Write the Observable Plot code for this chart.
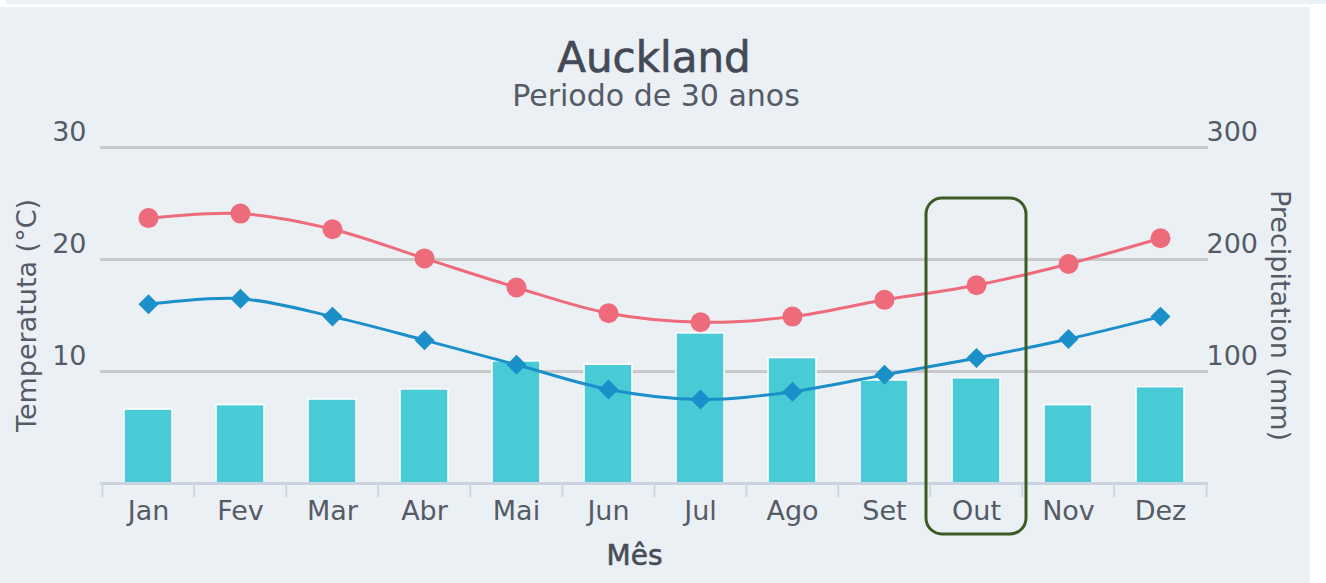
<!DOCTYPE html>
<html><head><meta charset="utf-8">
<script src="https://cdn.jsdelivr.net/npm/d3@7"></script>
<script src="https://cdn.jsdelivr.net/npm/@observablehq/plot@0.6"></script>
<style>
html,body{margin:0;padding:0;background:#fff;width:1326px;height:583px;overflow:hidden;font-family:"DejaVu Sans",sans-serif}
#strip{position:absolute;left:6px;top:0;width:1320px;height:4px;background:#ebf0f5}
#bg{position:absolute;left:0;top:7px;width:1310px;height:576px;background:#ebf0f5}
#title{position:absolute;left:154px;width:1000px;top:37px;text-align:center;font-size:42px;line-height:42px;color:#434a57;-webkit-text-stroke:0.7px #434a57}
#subtitle{position:absolute;left:156px;width:1000px;top:81px;text-align:center;font-size:30px;line-height:30px;color:#555b66}
#chart{position:absolute;left:0;top:120px}
</style>
</head><body>
<div id="strip"></div>
<div id="bg"></div>
<div id="title">Auckland</div>
<div id="subtitle">Periodo de 30 anos</div>
<div id="chart"></div>
<script>
const months = ["Jan","Fev","Mar","Abr","Mai","Jun","Jul","Ago","Set","Out","Nov","Dez"];
const tempMax = [23.7, 24.1, 22.7, 20.1, 17.5, 15.2, 14.4, 14.9, 16.4, 17.7, 19.6, 21.9];
const tempMin = [16.0, 16.5, 14.9, 12.8, 10.6, 8.4, 7.5, 8.2, 9.7, 11.2, 12.9, 14.9];
const precipitation = [66, 70, 75, 84, 109, 106, 134, 112, 92, 94, 70, 86];
const tempTicks = [10, 20, 30];
const precipTicks = [100, 200, 300];
const highlighted = ["Out"];
const xTitle = "Mês";
const yLeftTitle = "Temperatuta (°C)";
const yRightTitle = "Precipitation (mm)";

const table = months.map((m, i) => ({month: m, tmax: tempMax[i], tmin: tempMin[i], precip: precipitation[i]}));
const precipToTemp = 30 / 300;

const W = 1310, H = 463, ML = 100, MR = 102, MT = 27, MB = 100;
const bw = (W - ML - MR) / months.length;
const txt = "#555b66";

const chart = Plot.plot({
  width: W, height: H,
  marginLeft: ML, marginRight: MR, marginTop: MT, marginBottom: MB,
  style: {background: "transparent", fontFamily: "DejaVu Sans", fontSize: "27px", color: txt, overflow: "visible"},
  x: {type: "band", domain: months, padding: 0},
  y: {domain: [0, 30]},
  marks: [
    Plot.ruleY(tempTicks, {y: d => d, stroke: "#c9c9c9", strokeWidth: 3}),
    Plot.barY(table, {x: "month", y: d => d.precip * precipToTemp, fill: "#48cbd4", stroke: "#ffffff", strokeWidth: 1.5, insetLeft: 22, insetRight: 22}),
    Plot.ruleY([0], {stroke: "#c8d3df", strokeWidth: 3}),
    Plot.ruleX(months, {x: d => d, y1: 0, y2: 0, insetBottom: -14, dx: -bw / 2, stroke: "#cdd7e3", strokeWidth: 2}),
    Plot.ruleX(months.slice(-1), {x: d => d, y1: 0, y2: 0, insetBottom: -14, dx: bw / 2, stroke: "#cdd7e3", strokeWidth: 2}),
    Plot.axisX({tickSize: 0, tickPadding: 17, label: null, fill: txt}),
    Plot.axisY({anchor: "left", ticks: tempTicks, tickSize: 0, tickPadding: 14, dy: -15, label: null, fill: txt}),
    Plot.axisY({anchor: "right", ticks: tempTicks, tickFormat: d => String(Math.round(d / precipToTemp)), tickSize: 0, tickPadding: -2, dy: -15, label: null, fill: txt}),
    Plot.line(table, {x: "month", y: "tmax", curve: "catmull-rom", stroke: "#ee6b7b", strokeWidth: 3}),
    Plot.dot(table, {x: "month", y: "tmax", r: 10, fill: "#ee6b7b", symbol: "circle"}),
    Plot.line(table, {x: "month", y: "tmin", curve: "catmull-rom", stroke: "#1a8fc9", strokeWidth: 3}),
    Plot.dot(table, {x: "month", y: "tmin", r: 9, fill: "#1a8fc9", symbol: "diamond2"}),
    Plot.text([yLeftTitle], {text: d => d, frameAnchor: "left", textAnchor: "middle", dx: -73, rotate: -90, fill: txt, fontSize: 27}),
    Plot.text([yRightTitle], {text: d => d, frameAnchor: "right", textAnchor: "middle", dx: 71, rotate: 90, fill: txt, fontSize: 27}),
    Plot.text([xTitle], {text: d => d, frameAnchor: "bottom", dx: -20, dy: 81, fill: "#474d58", fontSize: 28, stroke: "#474d58", strokeWidth: 0.6}),
    Plot.cell(highlighted, {x: d => d, fill: "none", stroke: "#3c5a24", strokeWidth: 3, rx: 16, ry: 16, insetTop: 51, insetBottom: -51, insetLeft: -4, insetRight: -4})
  ]
});
document.getElementById("chart").appendChild(chart);
</script>
</body></html>
